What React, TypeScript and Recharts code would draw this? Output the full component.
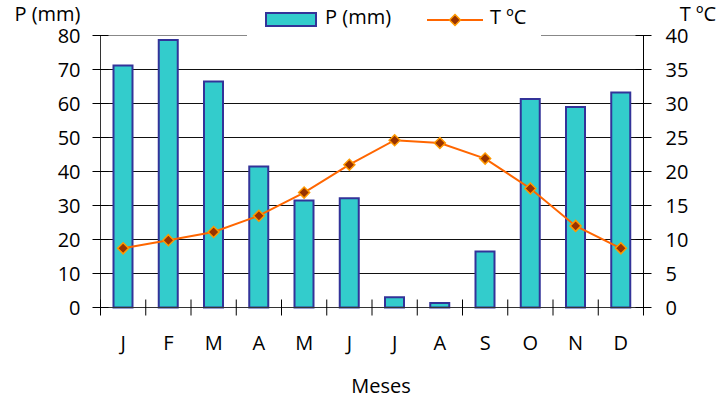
import React from 'react';
import { ComposedChart, Bar, Line, XAxis, YAxis, CartesianGrid, Legend, ReferenceLine } from 'recharts';

const months = ['J', 'F', 'M', 'A', 'M', 'J', 'J', 'A', 'S', 'O', 'N', 'D'];
const precipitation = [71.2, 78.7, 66.5, 41.5, 31.5, 32.1, 3.0, 1.3, 16.5, 61.3, 59.0, 63.2];
const temperature = [8.7, 9.9, 11.1, 13.5, 16.9, 21.0, 24.6, 24.2, 21.9, 17.5, 12.0, 8.7];
const pTicks = [0, 10, 20, 30, 40, 50, 60, 70, 80];
const tTicks = [0, 5, 10, 15, 20, 25, 30, 35, 40];

const data = months.map((m, i) => ({ month: m, p: precipitation[i], t: temperature[i] }));

const CHART_W = 717;
const CHART_H = 400;
const LEFT_W = 100.5;
const RIGHT_W = 73.5;
const PLOT_W = CHART_W - LEFT_W - RIGHT_W;
const BAND = PLOT_W / months.length;
const FONT = '"Open Sans", sans-serif';
const FS = 20;

const XTick = (props: any) => {
  const { x, y, payload, index } = props;
  const axisY = y - 28;
  const half = BAND / 2;
  return (
    <g>
      <line x1={x - half} x2={x - half} y1={axisY - 8} y2={axisY + 8} stroke="#000" strokeWidth={1} />
      {index === months.length - 1 && (
        <line x1={x + half} x2={x + half} y1={axisY - 8} y2={axisY + 8} stroke="#000" strokeWidth={1} />
      )}
      <text x={x} y={axisY + 42.5} textAnchor="middle" fontSize={FS} fontFamily={FONT} fill="#000">
        {payload.value}
      </text>
    </g>
  );
};

const LeftTick = (props: any) => {
  const { x, y, payload } = props;
  const axisX = x + 20;
  return (
    <g>
      <line x1={axisX - 8} x2={axisX + 8} y1={y} y2={y} stroke="#000" strokeWidth={1} />
      <text x={x} y={y} dy={7.5} textAnchor="end" fontSize={FS} fontFamily={FONT} fill="#000">
        {payload.value}
      </text>
    </g>
  );
};

const RightTick = (props: any) => {
  const { x, y, payload } = props;
  const axisX = x - 22;
  return (
    <g>
      <line x1={axisX - 8} x2={axisX + 8} y1={y} y2={y} stroke="#000" strokeWidth={1} />
      <text x={x} y={y} dy={7.5} textAnchor="start" fontSize={FS} fontFamily={FONT} fill="#000">
        {payload.value}
      </text>
    </g>
  );
};

const Diamond = (props: any) => {
  const { cx, cy } = props;
  if (cx == null || cy == null) return null;
  const r = 5.5;
  return (
    <polygon
      points={`${cx},${cy - r} ${cx + r},${cy} ${cx},${cy + r} ${cx - r},${cy}`}
      fill="#993300"
      stroke="#FF9900"
      strokeWidth={1.5}
    />
  );
};

const LegendContent = (props: any) => {
  const payload = props.payload || [];
  const bar = payload.find((p: any) => p.dataKey === 'p');
  const line = payload.find((p: any) => p.dataKey === 't');
  const textStyle: React.CSSProperties = {
    position: 'absolute',
    top: 5,
    fontSize: FS,
    lineHeight: '20px',
    fontFamily: FONT,
    color: '#000',
    whiteSpace: 'nowrap',
  };
  return (
    <div style={{ position: 'relative', width: 294, height: 35, background: '#fff' }}>
      <div
        style={{
          position: 'absolute',
          left: 18,
          top: 10,
          width: 52,
          height: 15,
          boxSizing: 'border-box',
          border: '2px solid #333399',
          background: '#33CCCC',
        }}
      />
      <div style={{ ...textStyle, left: 78 }}>{bar ? bar.value : ''}</div>
      <svg style={{ position: 'absolute', left: 180, top: 10 }} width={56} height={16}>
        <line x1={0} x2={56} y1={8} y2={8} stroke="#FF6600" strokeWidth={2} />
        <polygon points="28,2.5 33.5,8 28,13.5 22.5,8" fill="#993300" stroke="#FF9900" strokeWidth={1.5} />
      </svg>
      <div style={{ ...textStyle, left: 243 }}>{line ? line.value : ''}</div>
    </div>
  );
};

export default function App() {
  return (
    <div style={{ position: 'absolute', left: 0, top: 0, width: CHART_W, height: CHART_H, background: '#fff' }}>
      <ComposedChart
        width={CHART_W}
        height={CHART_H}
        data={data}
        margin={{ top: 35.5, right: 0, bottom: 0, left: 0 }}
      >
        <CartesianGrid yAxisId="left" vertical={false} stroke="#111" />
        <XAxis
          dataKey="month"
          height={92.5}
          interval={0}
          tickSize={8}
          tickMargin={20}
          tickLine={false}
          axisLine={{ stroke: '#333' }}
          tick={<XTick />}
          label={{
            value: 'Meses',
            content: (p: any) => {
              const vb = p.viewBox;
              return (
                <text x={vb.x + vb.width / 2 + 9} y={vb.y + 85} textAnchor="middle" fontSize={FS} fontFamily={FONT} fill="#000">
                  Meses
                </text>
              );
            },
          }}
        />
        <YAxis
          yAxisId="left"
          orientation="left"
          width={LEFT_W}
          domain={[0, 80]}
          ticks={pTicks}
          interval={0}
          tickSize={8}
          tickMargin={12}
          tickLine={false}
          axisLine={{ stroke: '#333' }}
          tick={<LeftTick />}
          label={{
            value: 'P (mm)',
            content: (p: any) => {
              const vb = p.viewBox;
              return (
                <text x={vb.x + vb.width - 20} y={vb.y - 15} textAnchor="end" fontSize={FS} fontFamily={FONT} fill="#000">
                  P (mm)
                </text>
              );
            },
          }}
        />
        <YAxis
          yAxisId="right"
          orientation="right"
          width={RIGHT_W}
          domain={[0, 40]}
          ticks={tTicks}
          interval={0}
          tickSize={8}
          tickMargin={14}
          tickLine={false}
          axisLine={{ stroke: '#000' }}
          tick={<RightTick />}
          label={{
            value: 'T ºC',
            content: (p: any) => {
              const vb = p.viewBox;
              return (
                <text x={vb.x + vb.width - 1} y={vb.y - 15} textAnchor="end" fontSize={FS} fontFamily={FONT} fill="#000">
                  T ºC
                </text>
              );
            },
          }}
        />
        <ReferenceLine yAxisId="left" y={80} stroke="#888" strokeWidth={1} />
        <Bar
          yAxisId="left"
          dataKey="p"
          name="P (mm)"
          fill="#33CCCC"
          stroke="#333399"
          strokeWidth={2}
          barSize={19}
          isAnimationActive={false}
        />
        <Line
          yAxisId="right"
          dataKey="t"
          name="T ºC"
          type="linear"
          stroke="#FF6600"
          strokeWidth={2}
          dot={<Diamond />}
          activeDot={false}
          isAnimationActive={false}
        />
        <Legend
          layout="horizontal"
          verticalAlign="middle"
          align="center"
          wrapperStyle={{ top: 2, left: 247, width: 294, height: 35 }}
          content={<LegendContent />}
        />
      </ComposedChart>
    </div>
  );
}
